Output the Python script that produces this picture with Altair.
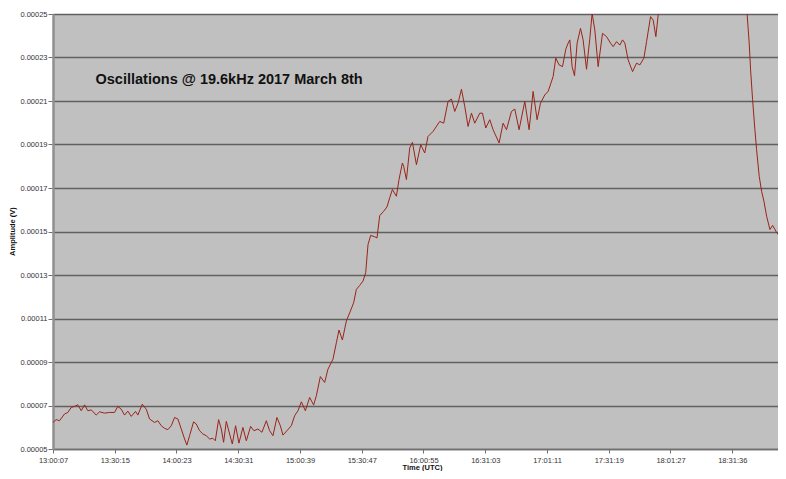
import altair as alt
import pandas as pd

chart_title = "Oscillations @ 19.6kHz 2017 March 8th"
start_label = "13:00:07"
x_tick_labels = ["13:00:07", "13:30:15", "14:00:23", "14:30:31", "15:00:39", "15:30:47",
                 "16:00:55", "16:31:03", "17:01:11", "17:31:19", "18:01:27", "18:31:36"]
y_ticks = [0.00005, 0.00007, 0.00009, 0.00011, 0.00013, 0.00015, 0.00017,
           0.00019, 0.00021, 0.00023, 0.00025]
x_end_min = 353.8

# minutes after 13:00:07
time_min = [0.0, 1.56, 3.17, 5.62, 7.23, 8.89, 10.50, 12.11, 13.77, 15.38, 16.99, 18.65,
            21.09, 22.71, 25.15, 27.59, 30.03, 31.64, 33.30, 34.91, 36.52, 38.18, 40.28,
            41.41, 43.56, 45.51, 47.12, 49.56, 51.17, 52.83, 54.44, 56.06, 57.72, 59.33,
            60.94, 62.60, 64.21, 65.33, 66.65, 68.61, 69.92, 71.54, 73.15, 74.81, 76.42,
            78.03, 79.20, 80.81, 82.13, 83.25, 84.57, 86.19, 87.50, 89.11, 90.73, 92.68,
            94.34, 96.44, 98.05, 100.00, 101.96, 104.11, 105.72, 107.33, 109.28, 110.94,
            112.21, 114.16, 116.31, 117.92, 119.54, 121.20, 123.15, 125.25, 127.20, 128.52,
            130.47, 132.57, 134.18, 136.63, 138.29, 139.56, 141.22, 143.17, 145.12, 146.74,
            148.05, 149.66, 151.28, 152.60, 153.72, 155.04, 156.99, 158.11, 159.43, 161.38,
            162.99, 164.31, 165.63, 167.58, 168.85, 170.51, 171.15, 172.47, 174.08, 175.40,
            177.35, 179.45, 181.40, 183.01, 185.45, 188.72, 190.67, 192.78, 194.44, 196.05,
            197.66, 199.32, 200.94, 202.55, 204.21, 205.82, 208.26, 209.58, 211.19, 213.15,
            214.76, 217.69, 219.64, 221.30, 223.74, 225.35, 227.45, 230.23, 232.33, 234.29,
            236.24, 237.90, 240.00, 241.61, 244.05, 245.37, 246.98, 248.64, 250.25, 251.38,
            252.21, 253.33, 254.50, 255.77, 257.43, 258.70, 260.36, 261.97, 263.10, 264.41,
            266.03, 268.17, 270.13, 272.08, 273.35, 275.01, 276.62, 277.94, 279.06, 280.67,
            282.82, 284.77, 286.39, 288.34, 289.66, 291.61, 292.88, 294.20, 295.32, 296.15,
            301.0, 310.7, 320.5, 330.2, 336.1, 338.71, 339.74, 340.43, 341.40, 342.53,
            343.36, 344.63, 345.80, 346.93, 348.25, 349.86, 351.18, 352.79, 353.92, 355.09,
            356.70, 357.68]

amplitude_v = [6.22e-05, 6.35e-05, 6.30e-05, 6.61e-05, 6.68e-05, 6.91e-05, 6.96e-05, 7.03e-05,
               6.76e-05, 7.03e-05, 6.76e-05, 6.80e-05, 6.56e-05, 6.71e-05, 6.65e-05, 6.68e-05,
               6.68e-05, 6.96e-05, 6.83e-05, 6.56e-05, 6.74e-05, 6.50e-05, 6.73e-05, 6.56e-05,
               7.06e-05, 6.83e-05, 6.38e-05, 6.22e-05, 6.30e-05, 6.07e-05, 5.95e-05, 5.89e-05,
               6.07e-05, 6.45e-05, 6.38e-05, 5.92e-05, 5.46e-05, 5.18e-05, 5.61e-05, 6.25e-05,
               6.15e-05, 5.84e-05, 5.69e-05, 5.61e-05, 5.46e-05, 5.49e-05, 5.38e-05, 6.35e-05,
               5.92e-05, 5.31e-05, 6.27e-05, 5.69e-05, 5.23e-05, 6.07e-05, 5.27e-05, 5.99e-05,
               5.38e-05, 6.04e-05, 5.84e-05, 5.92e-05, 5.77e-05, 6.30e-05, 5.84e-05, 5.61e-05,
               6.45e-05, 6.07e-05, 5.64e-05, 5.84e-05, 6.07e-05, 6.53e-05, 6.76e-05, 7.17e-05,
               6.76e-05, 7.37e-05, 7.02e-05, 7.45e-05, 8.33e-05, 8.06e-05, 8.67e-05, 9.13e-05,
               9.89e-05, 10.47e-05, 10.01e-05, 10.89e-05, 11.34e-05, 11.73e-05, 12.34e-05,
               12.52e-05, 12.72e-05, 13.11e-05, 14.40e-05, 14.82e-05, 14.76e-05, 14.70e-05,
               15.73e-05, 15.93e-05, 16.13e-05, 16.55e-05, 16.93e-05, 16.62e-05, 17.39e-05,
               18.15e-05, 17.99e-05, 17.39e-05, 18.84e-05, 19.10e-05, 18.07e-05, 18.99e-05,
               18.61e-05, 19.37e-05, 19.60e-05, 20.06e-05, 19.98e-05, 20.98e-05, 21.09e-05,
               20.52e-05, 20.90e-05, 21.54e-05, 20.75e-05, 19.83e-05, 20.44e-05, 19.98e-05,
               20.44e-05, 20.44e-05, 19.76e-05, 20.14e-05, 19.68e-05, 19.07e-05, 19.98e-05,
               19.68e-05, 20.52e-05, 20.63e-05, 19.68e-05, 20.98e-05, 19.68e-05, 21.44e-05,
               20.14e-05, 20.90e-05, 21.28e-05, 21.44e-05, 22.12e-05, 22.97e-05, 22.66e-05,
               22.58e-05, 23.38e-05, 23.66e-05, 23.81e-05, 22.58e-05, 22.16e-05, 23.66e-05,
               24.34e-05, 23.81e-05, 22.46e-05, 23.88e-05, 25.03e-05, 24.27e-05, 22.58e-05,
               24.11e-05, 23.96e-05, 23.66e-05, 23.50e-05, 23.73e-05, 23.57e-05, 23.81e-05,
               23.66e-05, 22.89e-05, 22.35e-05, 22.74e-05, 22.66e-05, 22.97e-05, 23.73e-05,
               24.88e-05, 24.72e-05, 23.96e-05, 24.95e-05, 25.10e-05, 26.2e-05, 27.0e-05,
               27.4e-05, 26.8e-05, 25.9e-05, 25.03e-05, 23.66e-05, 22.43e-05, 21.06e-05,
               19.68e-05, 18.76e-05, 17.54e-05, 16.85e-05, 16.39e-05, 15.70e-05, 15.09e-05,
               15.28e-05, 15.01e-05, 14.86e-05, 15.09e-05, 15.55e-05, 15.70e-05]


def to_sec(s):
    h, m, sec = (int(p) for p in s.split(":"))
    return h * 3600 + m * 60 + sec


start_sec = to_sec(start_label)
x_tick_values = [(to_sec(s) - start_sec) / 60 for s in x_tick_labels]

df = pd.DataFrame({"t": time_min, "amp": amplitude_v})

line = alt.Chart(df).mark_line(color="#9a2418", strokeWidth=1, clip=True).encode(
    x=alt.X("t:Q",
            scale=alt.Scale(domain=[0, x_end_min], nice=False, zero=False),
            axis=alt.Axis(values=x_tick_values,
                          labelExpr=f"utcFormat((datum.value*60 + {start_sec})*1000, '%H:%M:%S')",
                          title="Time (UTC)", grid=False,
                          domainColor="#707070", domainWidth=1.5,
                          tickColor="#707070", tickSize=4,
                          labelFont="Liberation Sans", labelFontSize=7.5, labelColor="#333333",
                          labelPadding=3, labelFlush=False, labelOverlap=False,
                          titleFont="Liberation Sans", titleFontSize=7.5, titleFontWeight="bold",
                          titleColor="#111111", titleX=369, titleY=18.5,
                          titleBaseline="middle", titleAlign="center")),
    y=alt.Y("amp:Q",
            scale=alt.Scale(domain=[0.00005, 0.00025], nice=False, zero=False),
            axis=alt.Axis(values=y_ticks, format=".5f", title="Amplitude (V)",
                          grid=True, gridColor="#606060", gridWidth=1.3,
                          domainColor="#909090", domainWidth=2.5,
                          tickColor="#707070", tickSize=5,
                          labelFont="Liberation Sans", labelFontSize=7.5, labelColor="#333333",
                          labelPadding=1, labelOverlap=False,
                          titleFont="Liberation Sans", titleFontSize=7.5, titleFontWeight="bold",
                          titleColor="#111111", titleAngle=270, titleX=-40.5, titleY=217,
                          titleAlign="center", titleBaseline="middle")),
)

title_df = pd.DataFrame({"label": [chart_title]})
title = alt.Chart(title_df).mark_text(
    align="left", baseline="middle", font="Liberation Sans", fontSize=14.5,
    fontWeight="bold", color="#111111"
).encode(text="label:N", x=alt.value(42.5), y=alt.value(66))

chart = alt.layer(line, title).properties(
    width=725, height=435,
    autosize=alt.AutoSizeParams(type="none"),
    padding={"left": 45, "top": 6, "right": 0, "bottom": 22},
    background="white",
).configure_view(fill="#c0c0c0", stroke=None)

chart.save("out.html", embed_options={"renderer": "svg", "actions": False})
